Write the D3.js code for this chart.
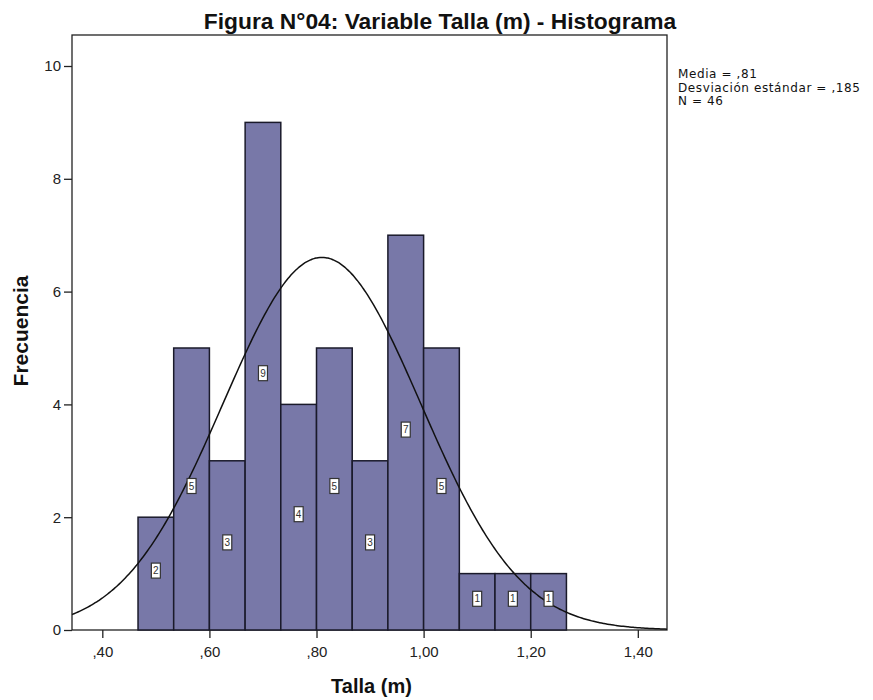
<!DOCTYPE html>
<html>
<head>
<meta charset="utf-8">
<script src="https://cdn.jsdelivr.net/npm/d3@7"></script>
<style>
  html, body { margin: 0; padding: 0; background: #fff; }
  svg { display: block; font-family: "Liberation Sans", Arial, sans-serif; }
</style>
</head>
<body>
<svg id="chart" width="873" height="700"></svg>
<script>
// ---- data ----
const binEdges = [0.4667, 0.5333, 0.6000, 0.6667, 0.7333, 0.8000, 0.8667, 0.9333, 1.0000, 1.0667, 1.1333, 1.2000, 1.2667];
const counts   = [2, 5, 3, 9, 4, 5, 3, 7, 5, 1, 1, 1];
const xTickValues = [0.40, 0.60, 0.80, 1.00, 1.20, 1.40];
const xTickLabels = [",40", ",60", ",80", "1,00", "1,20", "1,40"];
const yTickValues = [0, 2, 4, 6, 8, 10];
const statsLines = ["Media = ,81", "Desviación estándar = ,185", "N = 46"];
const mean = 0.81, sd = 0.185, n = 46;
const titleText = "Figura N°04: Variable Talla (m) - Histograma";
const xLabel = "Talla (m)";
const yLabel = "Frecuencia";

// ---- layout ----
const svg = d3.select("#chart");
const pL = 72, pR = 667, pT = 35, pB = 630;

const x = d3.scaleLinear().domain([0.3434, 1.4545]).range([pL, pR]);
const y = d3.scaleLinear().domain([0, 10]).range([pB, 66]);

// frame
svg.append("rect")
  .attr("x", pL).attr("y", pT)
  .attr("width", pR - pL).attr("height", pB - pT)
  .attr("fill", "#fff").attr("stroke", "#222").attr("stroke-width", 1.3);

// bars
const bins = counts.map((c, i) => ({ x0: binEdges[i], x1: binEdges[i + 1], c }));
svg.append("g").selectAll("rect").data(bins).join("rect")
  .attr("x", d => x(d.x0))
  .attr("y", d => y(d.c))
  .attr("width", d => x(d.x1) - x(d.x0))
  .attr("height", d => y(0) - y(d.c))
  .attr("fill", "#7878a8")
  .attr("stroke", "#1a1a2a")
  .attr("stroke-width", 1.5);

// normal curve
const binW = binEdges[1] - binEdges[0];
const curveXs = d3.range(0, 301).map(i => x.domain()[0] + (x.domain()[1] - x.domain()[0]) * i / 300);
const dens = v => n * binW / (sd * Math.sqrt(2 * Math.PI)) * Math.exp(-0.5 * ((v - mean) / sd) ** 2);
svg.append("path")
  .datum(curveXs)
  .attr("d", d3.line().x(v => x(v)).y(v => y(dens(v))).curve(d3.curveBasis))
  .attr("fill", "none").attr("stroke", "#111").attr("stroke-width", 1.5);

// count labels
const lab = svg.append("g").selectAll("g").data(bins).join("g")
  .attr("transform", d => `translate(${x((d.x0 + d.x1) / 2)},${y(d.c / 2) - 3})`);
lab.append("rect")
  .attr("x", -4.5).attr("y", -7.5).attr("width", 9).attr("height", 15)
  .attr("fill", "#fff").attr("stroke", "#333").attr("stroke-width", 1.2);
lab.append("text")
  .attr("text-anchor", "middle").attr("dy", "0.35em")
  .attr("font-size", 10).attr("fill", "#333")
  .text(d => d.c);

// axes
const xAxis = d3.axisBottom(x).tickValues(xTickValues)
  .tickFormat((d, i) => xTickLabels[i]).tickSize(8).tickPadding(8);
const gx = svg.append("g").attr("transform", `translate(0,${pB})`).call(xAxis);
const yAxis = d3.axisLeft(y).tickValues(yTickValues).tickSize(8).tickPadding(3);
const gy = svg.append("g").attr("transform", `translate(${pL},0)`).call(yAxis);
[gx, gy].forEach(g => {
  g.select(".domain").remove();
  g.selectAll("line").attr("stroke", "#222").attr("stroke-width", 1.3);
  g.selectAll("text").attr("font-family", "Liberation Sans, Arial, sans-serif")
    .attr("font-size", 15).attr("fill", "#222");
});

// title
svg.append("text")
  .attr("x", 440).attr("y", 29)
  .attr("text-anchor", "middle")
  .attr("font-size", 22.8).attr("font-weight", "bold").attr("fill", "#111")
  .text(titleText);

// axis labels
svg.append("text")
  .attr("x", 371.5).attr("y", 693)
  .attr("text-anchor", "middle")
  .attr("font-size", 20).attr("font-weight", "bold").attr("fill", "#111")
  .text(xLabel);
svg.append("text")
  .attr("transform", "translate(28,331) rotate(-90)")
  .attr("text-anchor", "middle")
  .attr("font-size", 21).attr("font-weight", "bold").attr("fill", "#111")
  .text(yLabel);

// stats
svg.append("g").selectAll("text").data(statsLines).join("text")
  .attr("x", 678).attr("y", (d, i) => 78 + i * 13.5)
  .attr("font-family", "DejaVu Sans, sans-serif")
  .attr("font-size", 12).attr("letter-spacing", 0.6).attr("fill", "#111")
  .text(d => d);
</script>
</body>
</html>
